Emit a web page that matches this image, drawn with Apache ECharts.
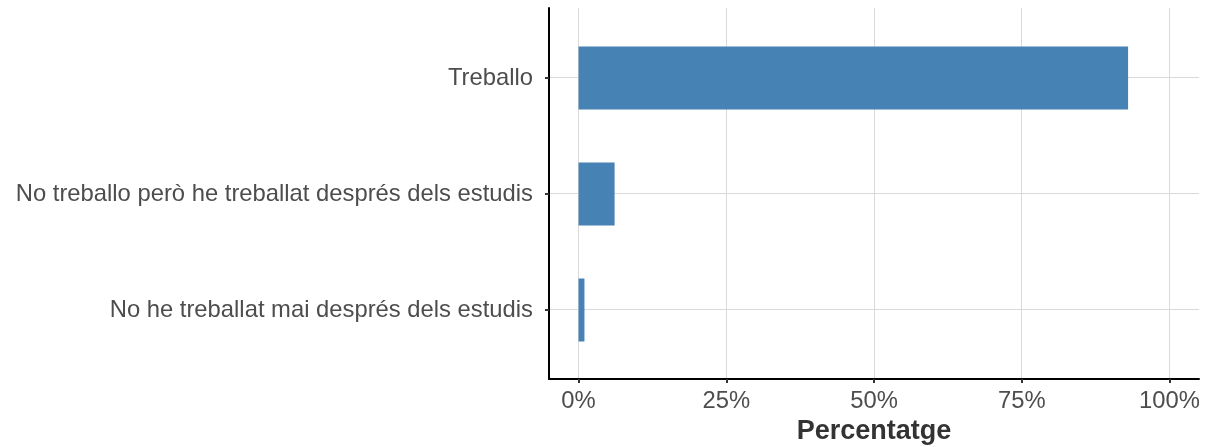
<!DOCTYPE html>
<html lang="ca">
<head>
    <meta charset="UTF-8">
    <title>Percentatge</title>
    <style>
        html, body { margin: 0; padding: 0; background: #fff; }
        #chart { width: 1205px; height: 447px; }
    </style>
</head>
<body>
    <div id="chart"></div>
    <script src="https://cdn.jsdelivr.net/npm/echarts@6/dist/echarts.min.js"></script>
    <script>
        // categories top to bottom
        const categories = ['Treballo', 'No treballo però he treballat després dels estudis', 'No he treballat mai després dels estudis'];
        const percentages = [93.0, 6.1, 1.0];
        const xTicks = [0, 25, 50, 75, 100];
        const catPositions = [1, 2, 3];

        const labelFont = { color: '#4d4d4d', fontSize: 23.8, fontFamily: 'Liberation Sans' };

        let myChart = echarts.init(document.getElementById('chart'));
        myChart.setOption({
            animation: false,
            grid: [
                // full panel: axis lines + grid lines
                { left: 549, right: 6, top: 8, bottom: 68, outerBoundsMode: 'none' },
                // bars: bands of 116px centred on the grid lines
                { left: 549, right: 6, top: 20, bottom: 79, outerBoundsMode: 'none' }
            ],
            xAxis: [
                {
                    gridIndex: 0, type: 'value', min: -5, max: 105,
                    name: 'Percentatge', nameLocation: 'middle', nameGap: 39,
                    nameTextStyle: { color: '#333', fontSize: 27, fontWeight: 'bold', fontFamily: 'Liberation Sans' },
                    axisLine: { show: true, onZero: false, lineStyle: { color: '#000', width: 2 } },
                    axisTick: { show: true, customValues: xTicks, length: 4, lineStyle: { color: '#333', width: 2 } },
                    axisLabel: Object.assign({ customValues: xTicks, margin: 10, formatter: v => v + '%' }, labelFont),
                    splitLine: { show: true, lineStyle: { color: '#d9d9d9', width: 1 } }
                },
                {
                    gridIndex: 1, type: 'value', min: -5, max: 105,
                    axisLine: { show: false }, axisTick: { show: false },
                    axisLabel: { show: false }, splitLine: { show: false }
                }
            ],
            yAxis: [
                {
                    gridIndex: 0, type: 'value', min: 0.4, max: 3.6, inverse: true,
                    axisLine: { show: true, onZero: false, lineStyle: { color: '#000', width: 2 } },
                    axisTick: { show: true, customValues: catPositions, length: 4, lineStyle: { color: '#333', width: 2 } },
                    axisLabel: { show: false, customValues: catPositions },
                    splitLine: { show: true, lineStyle: { color: '#d9d9d9', width: 1 } }
                },
                {
                    gridIndex: 1, type: 'category', data: categories, inverse: true,
                    axisLine: { show: false }, axisTick: { show: false },
                    axisLabel: Object.assign({ margin: 16 }, labelFont),
                    splitLine: { show: false }
                }
            ],
            series: [{
                type: 'bar', xAxisIndex: 1, yAxisIndex: 1,
                data: percentages, barWidth: 63,
                itemStyle: { color: '#4682b4' }
            }]
        });
    </script>
</body>
</html>
